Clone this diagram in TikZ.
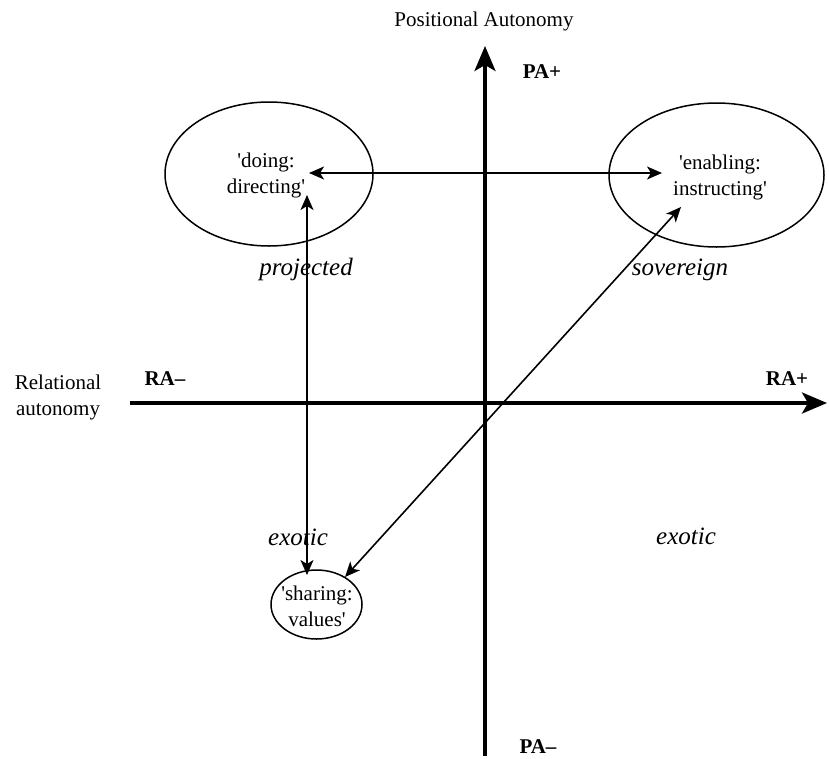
\documentclass[tikz,border=0pt]{standalone}
\usepackage{fontspec}
\newfontfamily\tnr{Liberation Serif}
\usetikzlibrary{arrows.meta,shapes.geometric}
\begin{document}
\begin{tikzpicture}[x=1pt,y=-1pt,
  txt/.style={font=\tnr\fontsize{21}{26}\selectfont, inner sep=0pt, align=center},
  lbl/.style={font=\tnr\fontsize{21}{26}\selectfont, inner sep=0pt, anchor=base},
  blbl/.style={font=\tnr\bfseries\fontsize{21}{26}\selectfont, inner sep=0pt, anchor=base},
  ilbl/.style={font=\tnr\itshape\fontsize{25}{30}\selectfont, inner sep=0pt, anchor=base},
  ell/.style={draw, ellipse, line width=1.5pt, inner sep=0pt},
  axis/.style={line width=3.5pt, -{Stealth[length=25pt,width=21pt,inset=6pt]}},
  link/.style={line width=1.6pt, {Stealth[length=15pt,width=13pt,inset=4pt]}-{Stealth[length=15pt,width=13pt,inset=4pt]}}
]
\useasboundingbox (0,0) rectangle (829,758);

% axes
\coordinate (hxs) at (130,403);
\coordinate (hxe) at (827,403);
\coordinate (vys) at (485,756);
\coordinate (vye) at (485,46);
\draw[axis] (hxs) -- (hxe);
\draw[axis] (vys) -- (vye);

% axis labels
\node[lbl] (pos) at (484,26) {Positional Autonomy};
\node[blbl] (pap) at (542,78) {PA+};
\node[blbl] (pam) at (538,753) {PA–};
\node[blbl] (ram) at (165,385) {RA–};
\node[blbl] (rap) at (787,385) {RA+};
\node[lbl] (rel1) at (58,389) {Relational};
\node[lbl] (rel2) at (58,415) {autonomy};

% ellipses
\node[ell, minimum width=208pt, minimum height=144pt] (e1) at (269,174) {};
\node[ell, minimum width=215pt, minimum height=144pt] (e2) at (716.5,175) {};
\node[ell, minimum width=91pt, minimum height=69pt] (e3) at (316.5,604.5) {};
\node[txt] (t1) at (266,175) {'doing:\\directing'};
\node[txt] (t2) at (720,177) {'enabling:\\instructing'};
\node[txt] (t3) at (317,606) {'sharing:\\values'};

% quadrant labels
\node[ilbl] (proj) at (306,275) {projected};
\node[ilbl] (sov) at (680,275) {sovereign};
\node[ilbl] (ex1) at (298,545) {exotic};
\node[ilbl] (ex2) at (686,544) {exotic};

% connectors
\coordinate (a1) at (309,173);
\coordinate (a2) at (662,173);
\coordinate (b1) at (307,195);
\coordinate (b2) at (307,575);
\coordinate (c1) at (345,577);
\coordinate (c2) at (681,207);
\draw[link] (a1) -- (a2);
\draw[link] (b1) -- (b2);
\draw[link] (c1) -- (c2);
\end{tikzpicture}
\end{document}
